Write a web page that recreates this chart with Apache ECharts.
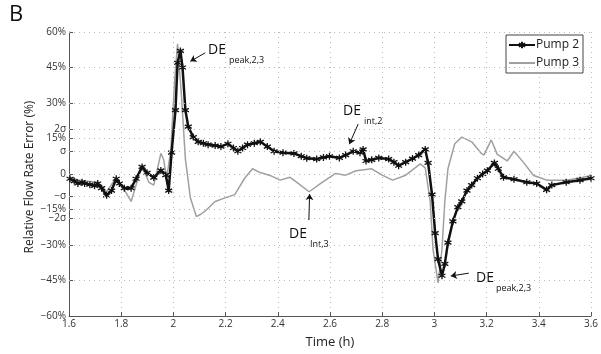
<!DOCTYPE html>
<html>
<head>
<meta charset="utf-8">
<script src="https://cdn.jsdelivr.net/npm/echarts@6/dist/echarts.min.js"></script>
<style>
  html, body { margin: 0; padding: 0; background: #fff; }
  #chart { width: 601px; height: 354px; }
</style>
</head>
<body>
<div id="chart"></div>
<script>
// Pump 2 (black, star markers)
const pump2Time = [1.604, 1.62, 1.634, 1.65, 1.66, 1.68, 1.698, 1.71, 1.725, 1.744, 1.763, 1.781, 1.793, 1.812,
  1.838, 1.857, 1.88, 1.899, 1.925, 1.952, 1.971, 1.982, 1.993, 2.008, 2.016, 2.027, 2.035, 2.046, 2.057, 2.076,
  2.095, 2.115, 2.133, 2.16, 2.182, 2.209, 2.23, 2.247, 2.265, 2.284, 2.31, 2.333, 2.36, 2.386, 2.42, 2.462,
  2.49, 2.511, 2.549, 2.575, 2.598, 2.636, 2.66, 2.689, 2.715, 2.727, 2.738, 2.76, 2.787, 2.825, 2.845, 2.863,
  2.89, 2.916, 2.94, 2.965, 2.976, 2.991, 3.003, 3.014, 3.029, 3.04, 3.052, 3.071, 3.09, 3.105, 3.125, 3.143,
  3.165, 3.185, 3.203, 3.23, 3.245, 3.265, 3.305, 3.354, 3.392, 3.43, 3.45, 3.505, 3.558, 3.6]
const pump2Value = [-2, -3, -4, -3.5, -4, -4.5, -5, -4, -6, -9, -7, -2, -4, -6,
  -6, -2, 3, 0.5, -1.5, 1.5, -0.5, -7, 9, 27, 47, 52, 45, 27, 20, 15.6,
  13.6, 13, 12.4, 12, 11.6, 12.8, 11, 9.6, 11, 12.4, 13, 13.6, 11.6, 9.6, 9, 8.7,
  7.5, 6.7, 6.3, 7, 7.5, 6.8, 8, 9.6, 9, 10.4, 5.5, 6, 6.8, 6.3, 5, 3.5,
  5, 6.5, 8, 10.4, 4.7, -8.7, -25, -36, -43, -38, -29, -20, -14, -11.6, -7, -4.7,
  -1.8, 0, 1.4, 4.7, 2.2, -1.4, -2.2, -3.5, -4, -6.7, -4.7, -3.5, -2.6, -1.8]

// Pump 3 (grey line)
const pump3Time = [1.604, 1.634, 1.66, 1.71, 1.744, 1.781, 1.812, 1.838, 1.857, 1.88, 1.906, 1.925, 1.952,
  1.963, 1.974, 1.99, 2.005, 2.016, 2.031, 2.046, 2.065, 2.088, 2.105, 2.122, 2.16, 2.2, 2.235, 2.273, 2.303,
  2.333, 2.37, 2.409, 2.447, 2.473, 2.52, 2.57, 2.62, 2.66, 2.7, 2.76, 2.8, 2.84, 2.89, 2.946, 2.965, 2.984,
  2.995, 3.014, 3.029, 3.04, 3.052, 3.078, 3.105, 3.143, 3.18, 3.19, 3.218, 3.241, 3.279, 3.305, 3.343, 3.38,
  3.4, 3.43, 3.505, 3.57, 3.6]
const pump3Value = [-1.5, -2.5, -3, -3.5, -7.5, -1.5, -6.7, -11.6, -4.7, 3.5, -3.5, -4.7, 8.7,
  6, -2, 10, 40, 55, 33, 6.3, -10, -18, -17, -15.6, -11.6, -10, -8.7, -1.8, 2.2,
  0.6, -0.6, -2.6, -1.4, -3.5, -7.5, -3.5, 0.2, -0.5, 1.4, 2.2, -0.5, -2.6, -0.5, 4.3, 2.6, -11.6,
  -32, -46, -32, -11.6, 2.2, 12.8, 15.6, 13.6, 8.7, 8, 14.4, 8.3, 5.5, 9.6, 4.7, -0.6,
  -1.4, -2.6, -2.6, -1.4, -0.6]

// y ticks (sigma marks included)
const sigma = 9.5
const twoSigma = 18.8
const yTickValues = [-60, -45, -30, -twoSigma, -15, -sigma, 0, sigma, 15, twoSigma, 30, 45, 60]
const yTickLabels = ['\u221260%', '\u221245%', '\u221230%', '\u22122\u03c3', '\u221215%', '\u2212\u03c3', '0',
  '\u03c3', '15%', '2\u03c3', '30%', '45%', '60%']

// annotation arrows: [tailTime, tailValue, headTime, headValue]
const arrows = [
  [2.122, 51.2, 2.065, 47.6],
  [2.708, 21.1, 2.674, 12.6],
  [2.519, -19.5, 2.522, -8.5],
  [3.132, -41.9, 3.063, -43.1]
]

const chart = echarts.init(document.getElementById('chart'))

const font = 'Open Sans'
const starPath = 'path://M0,-5L0,5M-4.3,-2.5L4.3,2.5M-4.3,2.5L4.3,-2.5'

const pair = (t, v) => t.map((x, i) => [x, v[i]])

const option = {
  animation: false,
  textStyle: { fontFamily: font },
  grid: { left: 69, right: 3, top: 32, bottom: 27, containLabel: false },
  legend: {
    data: [
      { name: 'Pump 2' },
      { name: 'Pump 3', itemStyle: { opacity: 0 } }
    ],
    orient: 'vertical',
    left: 506,
    top: 35,
    itemWidth: 26,
    itemHeight: 8,
    itemGap: 6,
    padding: [4, 4, 4, 2],
    borderColor: '#444',
    borderWidth: 1,
    backgroundColor: '#fff',
    textStyle: { fontSize: 12, color: '#222', fontFamily: font, padding: [0, 0, 0, -4] }
  },
  xAxis: {
    type: 'value',
    min: 1.6,
    max: 3.6,
    interval: 0.2,
    name: 'Time (h)',
    nameLocation: 'middle',
    nameGap: 20,
    nameTextStyle: { fontSize: 13, color: '#222' },
    axisLine: { onZero: false, lineStyle: { color: '#555' } },
    axisTick: { inside: true, length: 4, lineStyle: { color: '#555' } },
    axisLabel: {
      fontSize: 10, color: '#333', margin: 3,
      formatter: v => String(Number(v.toFixed(1)))
    },
    splitLine: { show: true, lineStyle: { color: '#bbb', type: [1, 4] } }
  },
  yAxis: {
    type: 'value',
    min: -60,
    max: 60,
    name: 'Relative Flow Rate Error (%)',
    nameLocation: 'middle',
    nameGap: 33,
    nameMoveOverlap: false,
    nameTextStyle: { fontSize: 12, color: '#222', padding: [0, 6, 0, 0] },
    axisLine: { show: true, onZero: false, lineStyle: { color: '#555' } },
    axisTick: { inside: true, length: 4, customValues: yTickValues, lineStyle: { color: '#555' } },
    axisLabel: {
      fontSize: 10, color: '#333', margin: 3,
      customValues: yTickValues,
      formatter: v => {
        let best = 0
        yTickValues.forEach((t, i) => { if (Math.abs(t - v) < Math.abs(yTickValues[best] - v)) best = i })
        return yTickLabels[best]
      }
    },
    splitLine: { show: false }
  },
  graphic: [
    { type: 'text', left: 9, top: 4, style: { text: 'B', fontSize: 22, fill: '#111', fontFamily: font } },
    { type: 'text', left: 208, top: 43, style: { text: 'DE', fontSize: 14, fill: '#111', fontFamily: font } },
    { type: 'text', left: 229, top: 56, style: { text: 'peak,2,3', fontSize: 9, fill: '#111', fontFamily: font } },
    { type: 'text', left: 343, top: 104, style: { text: 'DE', fontSize: 14, fill: '#111', fontFamily: font } },
    { type: 'text', left: 364, top: 117, style: { text: 'int,2', fontSize: 9, fill: '#111', fontFamily: font } },
    { type: 'text', left: 289, top: 227, style: { text: 'DE', fontSize: 14, fill: '#111', fontFamily: font } },
    { type: 'text', left: 310, top: 240, style: { text: 'Int,3', fontSize: 9, fill: '#111', fontFamily: font } },
    { type: 'text', left: 476, top: 271, style: { text: 'DE', fontSize: 14, fill: '#111', fontFamily: font } },
    { type: 'text', left: 496, top: 284, style: { text: 'peak,2,3', fontSize: 9, fill: '#111', fontFamily: font } }
  ],
  series: [
    {
      name: 'gridlines',
      type: 'line',
      data: [],
      silent: true,
      z: 1,
      markLine: {
        silent: true,
        symbol: 'none',
        label: { show: false },
        lineStyle: { color: '#bbb', type: [1, 4], width: 1 },
        data: yTickValues.filter(v => v !== -60).map(v => ({ yAxis: v }))
      }
    },
    {
      name: 'Pump 3',
      type: 'line',
      data: pair(pump3Time, pump3Value),
      showSymbol: false,
      symbol: 'none',
      z: 3,
      lineStyle: { color: '#a0a0a0', width: 1.5 },
      itemStyle: { color: '#a0a0a0' }
    },
    {
      name: 'Pump 2',
      type: 'line',
      data: pair(pump2Time, pump2Value),
      symbol: starPath,
      symbolSize: 7,
      showAllSymbol: true,
      z: 4,
      lineStyle: { color: '#111', width: 2.5 },
      itemStyle: { color: '#111', borderColor: '#111', borderWidth: 1.3 }
    },
    {
      name: 'arrows',
      type: 'line',
      data: [],
      silent: true,
      z: 5,
      markLine: {
        silent: true,
        symbol: ['none', 'arrow'],
        symbolSize: 6,
        label: { show: false },
        lineStyle: { color: '#111', type: 'solid', width: 1 },
        data: arrows.map(a => [{ coord: [a[0], a[1]] }, { coord: [a[2], a[3]] }])
      }
    }
  ]
}

chart.setOption(option)
</script>
</body>
</html>
